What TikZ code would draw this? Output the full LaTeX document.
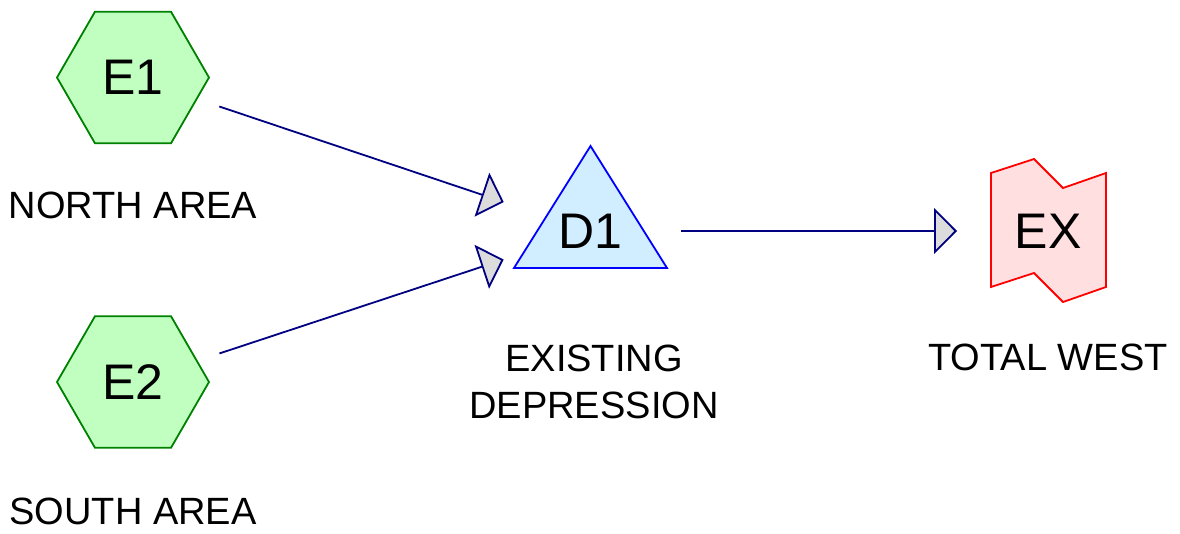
\documentclass[tikz,border=0pt]{standalone}
\usepackage{xcolor}
\usepackage{fontspec}
\setmainfont{Liberation Sans}
\usepackage{tikz}
\usetikzlibrary{arrows.meta, shapes.geometric}
\definecolor{hexgreen}{HTML}{008000}
\definecolor{hexfill}{HTML}{C0FFC0}
\definecolor{triblue}{HTML}{0000FF}
\definecolor{trifill}{HTML}{D0EEFF}
\definecolor{exred}{HTML}{FF0000}
\definecolor{exfill}{HTML}{FFDFDF}
\definecolor{flownavy}{HTML}{000080}
\definecolor{tipgray}{HTML}{DCDCDC}

\begin{document}
\begin{tikzpicture}[x=1pt, y=-1pt,
    hexnode/.style={regular polygon, regular polygon sides=6, minimum size=152pt,
      inner sep=0pt, draw=hexgreen, fill=hexfill, line width=1.8pt,
      font=\fontsize{50}{60}\selectfont},
    bigtext/.style={font=\fontsize{50}{60}\selectfont, inner sep=0pt},
    labeltext/.style={font=\fontsize{38}{47}\selectfont, align=center, inner sep=0pt},
    flow/.style={draw=flownavy, line width=1.8pt,
      -{Triangle[length=23pt, width=46pt, fill=tipgray]},
      shorten <=91pt, shorten >=91pt}]
    \useasboundingbox (0,0) rectangle (1180,533);
    % sources
    \node[hexnode] (e1) at (133,77.5) {E1};
    \node[hexnode] (e2) at (133,382) {E2};
    \node[labeltext] (e1label) at (133,205) {NORTH AREA};
    \node[labeltext] (e2label) at (133,511) {SOUTH AREA};
    % depression
    \draw[draw=triblue, fill=trifill, line width=1.8pt, line join=miter]
      (514,268) -- (590.5,146) -- (667,268) -- cycle;
    \node[bigtext] (d1) at (590,231) {D1};
    \node[labeltext] (d1label) at (594,381.5) {EXISTING\\DEPRESSION};
    % outlet
    \draw[draw=exred, fill=exfill, line width=1.8pt]
      (991,173) -- (1034,159) -- (1063,188) -- (1106,173) --
      (1106,287) -- (1063,302) -- (1034,273) -- (991,287) -- cycle;
    \node[bigtext] (ex) at (1048,231) {EX};
    \node[labeltext] (exlabel) at (1048,357) {TOTAL WEST};
    % connectors
    \draw[flow] (e1.center) -- (d1.center);
    \draw[flow] (e2.center) -- (d1.center);
    \draw[flow] (d1.center) -- (ex.center);
  \end{tikzpicture}
\end{document}
